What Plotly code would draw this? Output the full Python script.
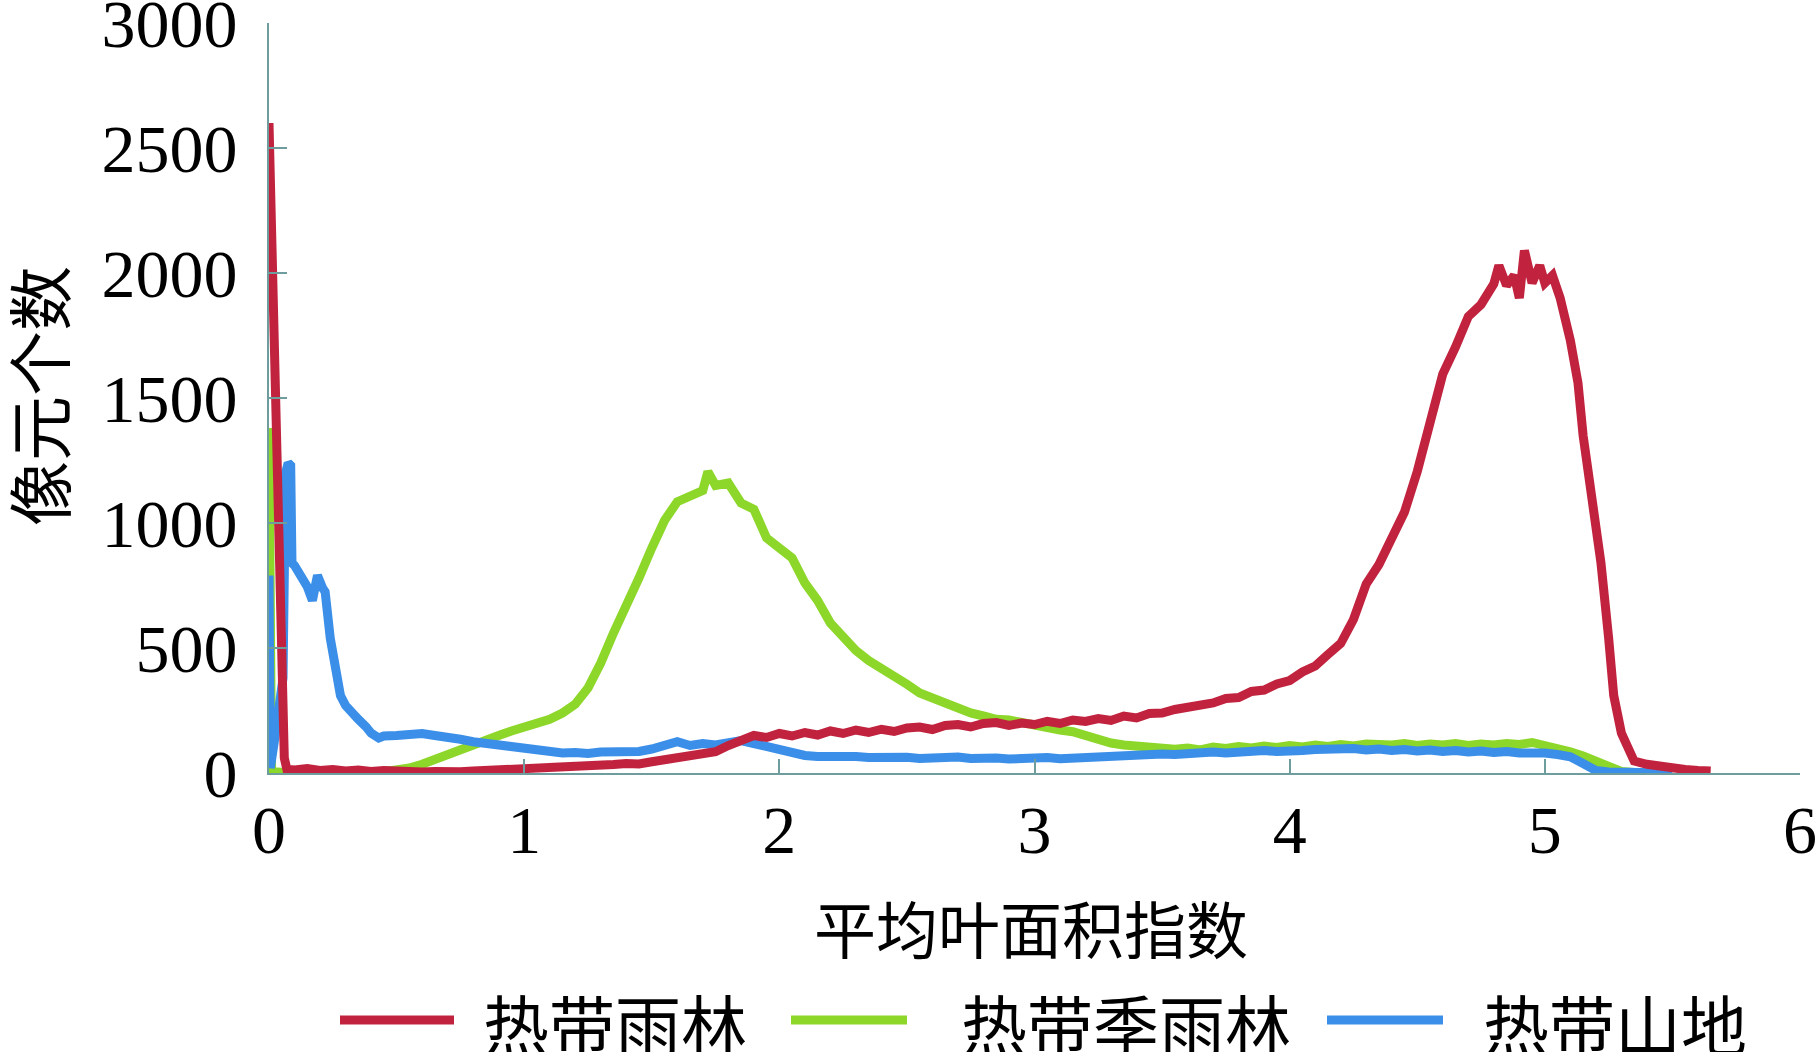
import plotly.graph_objects as go

# ---------------- data ----------------
series_names = ["热带雨林", "热带季雨林", "热带山地"]
series_colors = ["#c1233f", "#8dd62a", "#3b8fe8"]

red_x = [0, 0.01, 0.02, 0.03, 0.04, 0.05, 0.06, 0.07, 0.1, 0.15, 0.2, 0.25, 0.3, 0.35, 0.4, 0.45,
         0.5, 0.55, 0.6, 0.65, 0.7, 0.75, 0.8, 0.85, 0.9, 0.95, 1.0, 1.05, 1.1, 1.15, 1.2, 1.25,
         1.3, 1.35, 1.4, 1.45, 1.5, 1.55, 1.6, 1.65, 1.7, 1.75, 1.8, 1.85, 1.9, 1.95, 2.0, 2.05,
         2.1, 2.15, 2.2, 2.25, 2.3, 2.35, 2.4, 2.45, 2.5, 2.55, 2.6, 2.65, 2.7, 2.75, 2.8, 2.85,
         2.9, 2.95, 3.0, 3.05, 3.1, 3.15, 3.2, 3.25, 3.3, 3.35, 3.4, 3.45, 3.5, 3.55, 3.6, 3.65,
         3.7, 3.75, 3.8, 3.85, 3.9, 3.95, 4.0, 4.05, 4.1, 4.15, 4.2, 4.25, 4.3, 4.35, 4.4, 4.45,
         4.5, 4.55, 4.6, 4.65, 4.7, 4.75, 4.8, 4.82, 4.85, 4.88, 4.9, 4.92, 4.95, 4.98, 5.0, 5.03,
         5.06, 5.1, 5.13, 5.15, 5.18, 5.2, 5.22, 5.25, 5.27, 5.3, 5.33, 5.35, 5.4, 5.45, 5.5, 5.55,
         5.6, 5.65]
red_y = [2600, 2150, 1720, 1280, 850, 400, 60, 15, 12, 18, 10, 14, 8, 12, 6, 10,
         5, 8, 4, 6, 3, 5, 8, 10, 12, 15, 14, 18, 16, 22, 20, 28,
         26, 34, 38, 36, 45, 52, 56, 62, 70, 85, 110, 135, 150, 142, 158, 148,
         162, 152, 168, 158, 172, 162, 175, 166, 180, 184, 174, 190, 194, 184, 198, 202,
         190, 200, 194, 207, 198, 212, 206, 218, 210, 228, 220, 238, 240, 254, 260, 274,
         280, 298, 302, 326, 332, 356, 370, 404, 428, 474, 518, 614, 756, 834, 936, 1044,
         1206, 1404, 1596, 1704, 1826, 1874, 1956, 2030, 1950, 1990, 1900, 2090, 1960, 2030, 1960, 1990,
         1900, 1730, 1560, 1350, 1130, 960, 840, 540, 310, 160, 80, 48, 35, 25, 18, 14,
         10, 8]

green_x = [0, 0.01, 0.05, 0.1, 0.15, 0.2, 0.25, 0.3, 0.35, 0.4, 0.45, 0.5, 0.55, 0.6, 0.65, 0.7,
           0.75, 0.8, 0.85, 0.9, 0.95, 1.0, 1.05, 1.1, 1.15, 1.2, 1.25, 1.3, 1.35, 1.4, 1.45, 1.5,
           1.55, 1.6, 1.65, 1.7, 1.72, 1.75, 1.8, 1.85, 1.9, 1.95, 2.0, 2.05, 2.1, 2.15, 2.2, 2.25,
           2.3, 2.35, 2.4, 2.45, 2.5, 2.55, 2.6, 2.65, 2.7, 2.75, 2.8, 2.85, 2.9, 2.95, 3.0, 3.05,
           3.1, 3.15, 3.2, 3.25, 3.3, 3.35, 3.4, 3.45, 3.5, 3.55, 3.6, 3.65, 3.7, 3.75, 3.8, 3.85,
           3.9, 3.95, 4.0, 4.05, 4.1, 4.15, 4.2, 4.25, 4.3, 4.35, 4.4, 4.45, 4.5, 4.55, 4.6, 4.65,
           4.7, 4.75, 4.8, 4.85, 4.9, 4.95, 5.0, 5.05, 5.1, 5.15, 5.2, 5.25, 5.3, 5.35]
green_y = [1380, 5, 3, 2, 4, 2, 3, 2, 3, 4, 5, 10, 20, 35, 55, 75,
           98, 118, 135, 150, 168, 182, 195, 215, 240, 275, 340, 440, 560, 665, 780, 900,
           1010, 1085, 1110, 1130, 1205, 1150, 1160, 1080, 1055, 940, 900, 860, 760, 690, 600, 540,
           490, 450, 420, 395, 355, 320, 300, 280, 255, 240, 228, 215, 212, 200, 195, 182,
           172, 165, 150, 128, 120, 112, 108, 100, 98, 95, 100, 92, 104, 98, 106, 100,
           108, 102, 110, 104, 112, 106, 114, 108, 116, 110, 112, 118, 110, 116, 112, 118,
           110, 116, 112, 118, 114, 122, 112, 100, 85, 68, 45, 22, 6, 2]

blue_x = [0, 0.005, 0.02, 0.04, 0.055, 0.065, 0.075, 0.085, 0.09, 0.1, 0.12, 0.15, 0.17, 0.19, 0.21, 0.22,
          0.24, 0.26, 0.28, 0.3, 0.32, 0.35, 0.38, 0.4, 0.43, 0.45, 0.5, 0.55, 0.6, 0.65, 0.7, 0.75,
          0.8, 0.85, 0.9, 0.95, 1.0, 1.05, 1.1, 1.15, 1.2, 1.25, 1.3, 1.35, 1.4, 1.45, 1.5, 1.55,
          1.6, 1.65, 1.7, 1.75, 1.8, 1.85, 1.9, 1.95, 2.0, 2.05, 2.1, 2.15, 2.2, 2.25, 2.3, 2.35,
          2.4, 2.45, 2.5, 2.55, 2.6, 2.65, 2.7, 2.75, 2.8, 2.85, 2.9, 2.95, 3.0, 3.05, 3.1, 3.15,
          3.2, 3.25, 3.3, 3.35, 3.4, 3.45, 3.5, 3.55, 3.6, 3.65, 3.7, 3.75, 3.8, 3.85, 3.9, 3.95,
          4.0, 4.05, 4.1, 4.15, 4.2, 4.25, 4.3, 4.35, 4.4, 4.45, 4.5, 4.55, 4.6, 4.65, 4.7, 4.75,
          4.8, 4.85, 4.9, 4.95, 5.0, 5.05, 5.1, 5.15, 5.2, 5.25, 5.3, 5.4, 5.5]
blue_y = [790, 20, 120, 260, 380, 1200, 1240, 1230, 840, 830, 800, 745, 690, 790, 740, 725,
          540, 400, 310, 270, 245, 215, 185, 160, 140, 148, 150, 152, 158, 150, 145, 135,
          125, 118, 110, 104, 98, 92, 86, 80, 82, 78, 84, 82, 88, 86, 96, 110,
          125, 110, 118, 112, 120, 130, 118, 105, 98, 80, 70, 66, 68, 64, 66, 62,
          65, 60, 63, 58, 62, 60, 64, 58, 62, 60, 56, 60, 58, 62, 57, 60,
          64, 62, 68, 66, 72, 70, 76, 74, 80, 78, 84, 80, 86, 84, 90, 86,
          92, 90, 94, 96, 90, 98, 92, 96, 90, 94, 88, 92, 86, 90, 84, 88,
          82, 86, 80, 84, 80, 74, 65, 38, 10, 4, 2, 1, 0]

x_ticks = [0, 1, 2, 3, 4, 5, 6]
y_ticks = [0, 500, 1000, 1500, 2000, 2500, 3000]
x_title = "平均叶面积指数"
y_title = "像元个数"

# ---------------- figure ----------------
W, H = 1817, 1052
L, R, T, B = 269, 17, 23, 279
NUM_FONT = "Liberation Serif, Times New Roman, serif"
CJK_FONT = "Noto Sans CJK SC, sans-serif"
AXIS_COLOR = "#6f9c9c"

fig = go.Figure()
xs = [red_x, green_x, blue_x]
ys = [red_y, green_y, blue_y]
for i in [1, 2, 0]:
    fig.add_trace(go.Scatter(x=xs[i], y=ys[i], mode="lines", name=series_names[i],
                             line=dict(color=series_colors[i], width=9), showlegend=False))

fig.update_layout(
    width=W, height=H,
    margin=dict(l=L, r=R, t=T, b=B, autoexpand=False),
    paper_bgcolor="white", plot_bgcolor="white",
    font=dict(family=NUM_FONT, color="black"),
)
fig.update_xaxes(range=[0, 6], tickvals=x_ticks, ticktext=[str(v) for v in x_ticks],
                 automargin=False, ticklabeloverflow="allow",
                 showgrid=False, zeroline=False, showline=True, linecolor=AXIS_COLOR, linewidth=2,
                 ticks="inside", ticklen=14, tickwidth=2, tickcolor=AXIS_COLOR,
                 tickfont=dict(family=NUM_FONT, size=68, color="black"), ticklabelstandoff=-4)
fig.update_yaxes(range=[0, 3000], tickvals=y_ticks, ticktext=[str(v) for v in y_ticks],
                 automargin=False, ticklabeloverflow="allow",
                 showgrid=False, zeroline=False, showline=True, linecolor=AXIS_COLOR, linewidth=2,
                 ticks="inside", ticklen=18, tickwidth=2, tickcolor=AXIS_COLOR,
                 tickfont=dict(family=NUM_FONT, size=68, color="black"), ticklabelstandoff=16)

# convert page-pixel positions to paper coordinates
def px_x(px):
    return (px - L) / (W - L - R)

def px_y(py):
    return (H - B - py) / (H - T - B)

# axis titles
fig.add_annotation(text=x_title, xref="paper", yref="paper", x=px_x(1031), y=px_y(927),
                   showarrow=False, font=dict(family=CJK_FONT, size=62, color="black"),
                   xanchor="center", yanchor="middle")
fig.add_annotation(text=y_title, xref="paper", yref="paper", x=px_x(37), y=px_y(396),
                   showarrow=False, textangle=-90, font=dict(family=CJK_FONT, size=65, color="black"),
                   xanchor="center", yanchor="middle")

# custom legend
legend_line = [(340, 454), (791, 907), (1327, 1443)]
legend_text_x = [481, 959, 1481]
leg_y = 1020
for i in range(3):
    x0, x1 = legend_line[i]
    fig.add_shape(type="line", xref="paper", yref="paper", x0=px_x(x0), x1=px_x(x1),
                  y0=px_y(leg_y), y1=px_y(leg_y), line=dict(color=series_colors[i], width=9))
    fig.add_annotation(text=series_names[i], xref="paper", yref="paper",
                       x=px_x(legend_text_x[i]), y=px_y(1022), showarrow=False,
                       xanchor="left", yanchor="middle",
                       font=dict(family=CJK_FONT, size=66, color="black"))

fig.write_html("out.html", config={"displayModeBar": False},
               post_script="document.body.style.margin='0';document.body.style.overflow='hidden';")
